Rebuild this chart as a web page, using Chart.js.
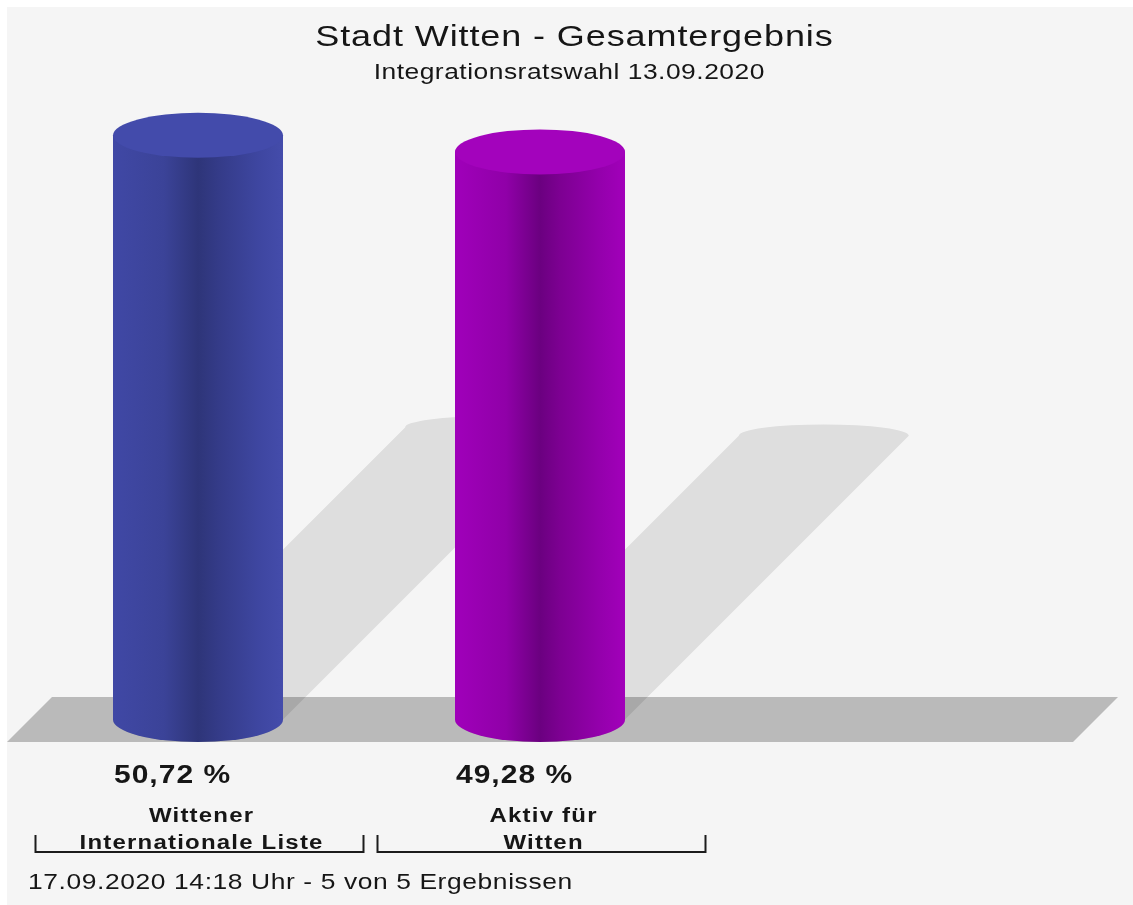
<!DOCTYPE html>
<html>
<head>
<meta charset="utf-8">
<script src="https://cdn.jsdelivr.net/npm/chart.js@4/dist/chart.umd.min.js"></script>
<style>
  html, body { margin: 0; padding: 0; background: #fff; }
  #wrap { width: 1133px; height: 905px; }
</style>
</head>
<body>
<div id="wrap"><canvas id="chart" width="1133" height="905"></canvas></div>
<script>
// data
const categories = [['Wittener', 'Internationale Liste'], ['Aktiv für', 'Witten']];
const shares = [50.72, 49.28];
const chartTitle = 'Stadt Witten - Gesamtergebnis';
const chartSubtitle = 'Integrationsratswahl 13.09.2020';
const footerText = '17.09.2020 14:18 Uhr - 5 von 5 Ergebnissen';

// look
const bodyStops = [
    [[0, '#4048a5'], [0.3, '#3b4398'], [0.5, '#2e3579'], [0.62, '#343b88'], [0.85, '#3e46a0'], [1, '#444cab']],
    [[0, '#a000ba'], [0.3, '#9000a8'], [0.5, '#6b0080'], [0.62, '#7d0092'], [0.85, '#9400ac'], [1, '#a200ba']]
];
const topColors = ['#434bab', '#a303bc'];
const CAP_RY = 22.5;
const FONT = '"Liberation Sans", Arial, Helvetica, sans-serif';
const TEXT = '#161616';

// the source renders its text wide: stretch glyphs a bit and add a little tracking
function wideText(ctx, text, x, y, font, sx, spacing, align) {
    ctx.save();
    ctx.font = font;
    ctx.fillStyle = TEXT;
    ctx.textBaseline = 'alphabetic';
    ctx.textAlign = 'left';
    const natural = ctx.measureText(text).width;
    const n = [...text].length;
    const hasSpacing = 'letterSpacing' in ctx;
    const ls = hasSpacing ? spacing / sx : 0;
    const width = (natural + (n - 1) * ls) * sx;
    const startX = align === 'center' ? x - width / 2 : x;
    ctx.translate(startX, y);
    ctx.scale(sx, 1);
    if (hasSpacing) ctx.letterSpacing = ls + 'px';
    ctx.fillText(text, 0, 0);
    ctx.restore();
}

const cylinderPlugin = {
    id: 'cylinders',
    beforeDraw(chart) {
        const ctx = chart.ctx;
        ctx.save();
        ctx.fillStyle = '#ffffff';
        ctx.fillRect(0, 0, chart.width, chart.height);
        ctx.fillStyle = '#f5f5f5';
        ctx.fillRect(7, 7, chart.width - 7, chart.height - 7);
        ctx.restore();
    },
    beforeDatasetsDraw(chart) {
        const ctx = chart.ctx;
        const base = chart.scales.y.getPixelForValue(0);
        ctx.save();
        // floor
        ctx.fillStyle = '#bababa';
        ctx.beginPath();
        ctx.moveTo(52, base - CAP_RY);
        ctx.lineTo(1118, base - CAP_RY);
        ctx.lineTo(1073, base + CAP_RY);
        ctx.lineTo(7, base + CAP_RY);
        ctx.closePath();
        ctx.fill();
        // shadows
        ctx.fillStyle = 'rgba(0,0,0,0.095)';
        chart.getDatasetMeta(0).data.forEach(bar => {
            const half = bar.width / 2, left = bar.x - half, right = bar.x + half;
            const d = (bar.base - bar.y) / 2;
            ctx.beginPath();
            ctx.moveTo(left, bar.base);
            ctx.lineTo(left + d, bar.base - d);
            ctx.ellipse(bar.x + d, bar.base - d, half, CAP_RY / 2, 0, Math.PI, 2 * Math.PI);
            ctx.lineTo(right, bar.base);
            ctx.ellipse(bar.x, bar.base, half, CAP_RY, 0, 0, Math.PI);
            ctx.closePath();
            ctx.fill();
        });
        ctx.restore();
    },
    afterDatasetsDraw(chart) {
        const ctx = chart.ctx;
        ctx.save();
        chart.getDatasetMeta(0).data.forEach((bar, i) => {
            const half = bar.width / 2, left = bar.x - half, right = bar.x + half;
            const grad = ctx.createLinearGradient(left, 0, right, 0);
            bodyStops[i].forEach(([o, c]) => grad.addColorStop(o, c));
            ctx.fillStyle = grad;
            ctx.beginPath();
            ctx.moveTo(left, bar.y);
            ctx.lineTo(left, bar.base);
            ctx.ellipse(bar.x, bar.base, half, CAP_RY, 0, Math.PI, 0, true);
            ctx.lineTo(right, bar.y);
            ctx.closePath();
            ctx.fill();

            ctx.fillStyle = topColors[i];
            ctx.beginPath();
            ctx.ellipse(bar.x, bar.y, half, CAP_RY, 0, 0, 2 * Math.PI);
            ctx.fill();

            // value + category labels under the floor
            const pct = shares[i].toFixed(2).replace('.', ',') + ' %';
            wideText(ctx, pct, left + 1, bar.base + 63.5, 'bold 25px ' + FONT, 1.2, 1, 'left');
            categories[i].forEach((line, k) => {
                wideText(ctx, line, bar.x + 3, bar.base + 102.5 + k * 27, 'bold 20px ' + FONT, 1.2, 1.2, 'center');
            });

            // bracket
            const bx = bar.x + 1.5, by = bar.base + 132.5;
            ctx.strokeStyle = '#1c1c1c';
            ctx.lineWidth = 2;
            ctx.beginPath();
            ctx.moveTo(bx - 164, by - 17);
            ctx.lineTo(bx - 164, by);
            ctx.lineTo(bx + 164, by);
            ctx.lineTo(bx + 164, by - 17);
            ctx.stroke();
        });
        ctx.restore();
    },
    afterDraw(chart) {
        const ctx = chart.ctx;
        wideText(ctx, chartTitle, 574, 46, '30px ' + FONT, 1.2, 0.9, 'center');
        wideText(ctx, chartSubtitle, 569, 79, '22px ' + FONT, 1.2, 0.5, 'center');
        wideText(ctx, footerText, 28, 889, '22px ' + FONT, 1.2, 0.6, 'left');
    }
};

const chart = new Chart(document.getElementById('chart'), {
    type: 'bar',
    data: {
        labels: categories,
        datasets: [{
            data: shares,
            backgroundColor: 'rgba(0,0,0,0)',
            borderWidth: 0,
            barThickness: 170
        }]
    },
    options: {
        responsive: false,
        animation: false,
        layout: { padding: { left: 27, right: 422, top: 86, bottom: 185.5 } },
        scales: {
            x: { display: false },
            y: { display: false, min: 0, max: 55 }
        },
        plugins: {
            legend: { display: false },
            tooltip: { enabled: false }
        }
    },
    plugins: [cylinderPlugin]
});
</script>
</body>
</html>
